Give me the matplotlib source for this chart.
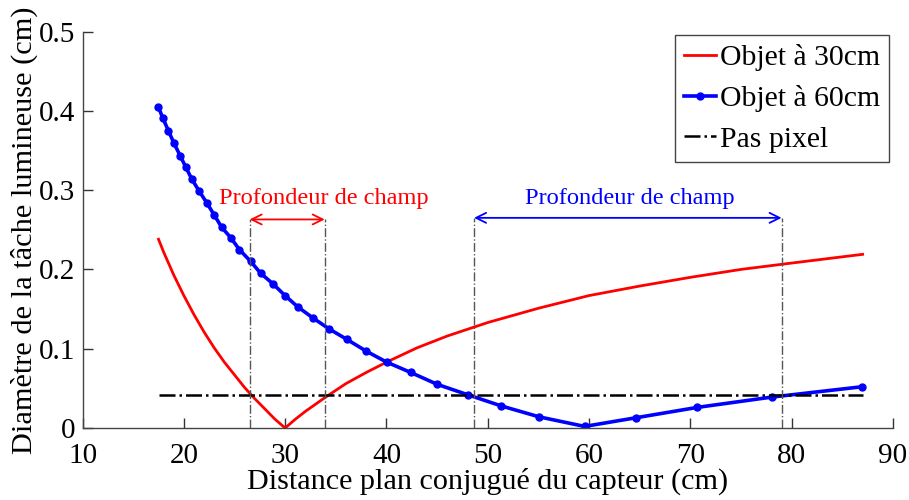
import numpy as np
import matplotlib
matplotlib.use('Agg')
import matplotlib.pyplot as plt

# data
x_red = [17.5, 18, 19, 20, 21, 22, 23, 24, 25, 26, 27, 28, 29, 30, 31, 32, 34, 36,
         38, 40, 43, 46, 50, 55, 60, 65, 70, 75, 80, 87]
y_red = [0.238, 0.222, 0.193, 0.167, 0.143, 0.121, 0.101, 0.083, 0.067, 0.051, 0.037,
         0.024, 0.011, 0.000, 0.011, 0.021, 0.039, 0.056, 0.070, 0.083, 0.101, 0.116,
         0.133, 0.151, 0.167, 0.179, 0.190, 0.200, 0.208, 0.219]

x_blue = [17.48, 17.92, 18.47, 19.03, 19.65, 20.19, 20.78, 21.50, 22.26, 22.98, 23.74,
          24.63, 25.48, 26.60, 27.59, 28.78, 29.99, 31.22, 32.72, 34.33, 36.06, 37.99,
          40.03, 42.40, 45.02, 48.01, 51.29, 55.09, 59.56, 64.67, 70.69, 78.04, 86.92]
y_blue = [0.405, 0.391, 0.375, 0.359, 0.343, 0.329, 0.314, 0.299, 0.284, 0.269, 0.253,
          0.240, 0.225, 0.210, 0.195, 0.182, 0.167, 0.153, 0.139, 0.125, 0.112, 0.097,
          0.083, 0.070, 0.055, 0.042, 0.028, 0.014, 0.002, 0.013, 0.026, 0.039, 0.052]

x_pixel = [17.5, 87]
y_pixel = [0.0415, 0.0415]

dof_red = [26.5, 33.9]
dof_blue = [48.65, 79.0]
arrow_y = [0.263, 0.265]
dof_label = 'Profondeur de champ'

plt.rcParams['font.family'] = ['Liberation Serif', 'DejaVu Serif']

fig = plt.figure(figsize=(9.09, 5.0), dpi=100, facecolor='w')
ax = fig.add_axes([0.0908, 0.144, 0.8916, 0.793])

ax.plot(x_red, y_red, color='#ff0000', lw=2.0, label='Objet à 30cm')
ax.plot(x_blue, y_blue, color='#0000ff', lw=2.6, marker='o', ms=5,
        label='Objet à 60cm')
ax.plot(x_pixel, y_pixel, 'k-.', lw=1.8, label='Pas pixel')

# depth of field markers
for xs, ya, col in [(dof_red, arrow_y[0], '#ff0000'), (dof_blue, arrow_y[1], '#0000ff')]:
    for xv in xs:
        ax.plot([xv, xv], [0, ya], color='#555555', ls='-.', lw=1.0)
    ax.annotate('', xy=(xs[1], ya), xytext=(xs[0], ya),
                arrowprops=dict(arrowstyle='<->', color=col, lw=1.3,
                                mutation_scale=18, shrinkA=0, shrinkB=0))
ax.text(33.84, 0.289, dof_label, color='#ff0000', fontsize=17.6, ha='center', va='center')
ax.text(64.05, 0.289, dof_label, color='#0000ff', fontsize=17.6, ha='center', va='center')

ax.set_xlim(10, 90)
ax.set_ylim(0, 0.5)
ax.set_xticks(np.arange(10, 91, 10))
ax.set_yticks([0, 0.1, 0.2, 0.3, 0.4, 0.5])
ax.set_yticklabels(['0', '0.1', '0.2', '0.3', '0.4', '0.5'])
ax.tick_params(direction='in', length=7, width=1, labelsize=21, colors='#333333',
               labelcolor='k')
ax.tick_params(axis='y', pad=5)
ax.tick_params(axis='x', pad=11)
for s in ['top', 'right']:
    ax.spines[s].set_visible(False)
for s in ['left', 'bottom']:
    ax.spines[s].set_color('#444444')
    ax.spines[s].set_linewidth(1.0)

ax.set_xlabel('Distance plan conjugué du capteur (cm)', fontsize=21.7, labelpad=-1)
ax.set_ylabel('Diamètre de la tâche lumineuse (cm)', fontsize=21.9, labelpad=1)

leg = ax.legend(loc='upper right', bbox_to_anchor=(0.995, 0.991), fontsize=21.4,
                handlelength=1.1, handletextpad=0.12, borderpad=0.3,
                labelspacing=0.47, borderaxespad=0.0, fancybox=False,
                numpoints=1, framealpha=1)
leg.get_frame().set_edgecolor('#444444')
leg.get_frame().set_linewidth(1.0)

fig.savefig('out.png', dpi=100)
